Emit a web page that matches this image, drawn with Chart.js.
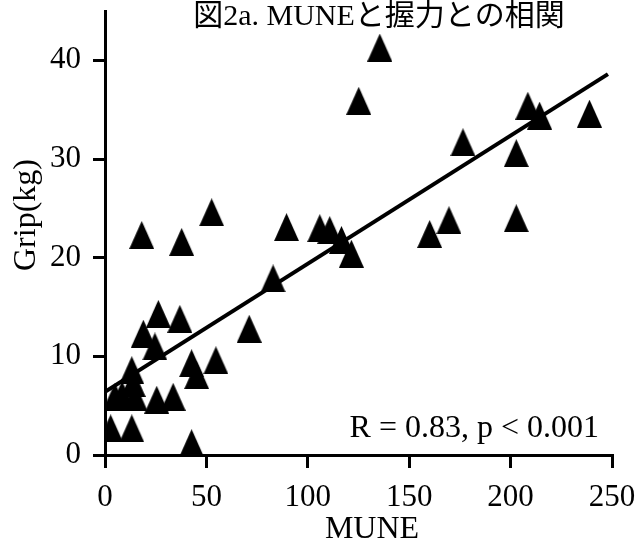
<!DOCTYPE html>
<html>
<head>
<meta charset="utf-8">
<script src="https://cdn.jsdelivr.net/npm/chart.js@4/dist/chart.umd.min.js"></script>
<style>
  html, body { margin: 0; padding: 0; background: #fff; }
  #wrap { width: 641px; height: 545px; position: relative; }
</style>
</head>
<body>
<div id="wrap"><canvas id="c" width="641" height="545"></canvas></div>
<script>
// ---- data ----
const muneValues = [18.1, 37.8, 52.6, 89.5, 105.9, 110.8, 116.6, 121.5, 160.1, 169.6,
  202.8, 202.8, 176.5, 208.5, 214.3, 238.9, 125.1, 135.5, 82.9, 71.1,
  54.7, 42.7, 45.2, 26.3, 36.9, 18.9, 24.6, 13.2, 13.9, 4.9,
  14.8, 25.5, 33.6, 2.8, 13.2, 42.7, 8.4];
const gripValues = [22.3, 21.6, 24.6, 23.1, 23.0, 22.8, 21.8, 20.4, 22.4, 23.8,
  24.0, 30.6, 31.7, 35.4, 34.4, 34.6, 35.9, 41.3, 17.9, 12.8,
  9.6, 9.3, 8.1, 14.3, 13.8, 12.3, 11.0, 8.6, 7.3, 5.9,
  5.9, 5.6, 5.9, 2.7, 2.7, 1.2, 6.1];
const fitLineX = [0, 248];
const fitLineY = [6.4, 38.6];
const xTicks = [0, 50, 100, 150, 200, 250];
const yTicks = [0, 10, 20, 30, 40];
const titleText = '図2a. MUNEと握力との相関';
const xTitle = 'MUNE';
const yTitle = 'Grip(kg)';
const statText = 'R = 0.83, p < 0.001';

const SERIF = "'Liberation Serif', 'Times New Roman', 'Noto Sans CJK JP', serif";

// custom triangle marker
const tri = document.createElement('canvas');
tri.width = 25; tri.height = 28;
(function(){
  const g = tri.getContext('2d');
  g.fillStyle = '#000';
  g.beginPath();
  g.moveTo(12.5, 0);
  g.lineTo(25, 28);
  g.lineTo(0, 28);
  g.closePath();
  g.fill();
})();

const textPlugin = {
  id: 'texts',
  afterDraw(chart) {
    const ctx = chart.ctx;
    ctx.save();
    ctx.fillStyle = '#000';
    ctx.font = '30px ' + SERIF;
    ctx.textAlign = 'center';
    ctx.textBaseline = 'alphabetic';
    ctx.fillText(titleText, 379, 25);
    ctx.font = '32px ' + SERIF;
    ctx.fillText(xTitle, 372, 538);
    ctx.textAlign = 'right';
    ctx.fillText(statText, 599, 437);
    ctx.translate(27, 215);
    ctx.rotate(-Math.PI / 2);
    ctx.textAlign = 'center';
    ctx.textBaseline = 'middle';
    ctx.fillText(yTitle, 0, 0);
    ctx.restore();
  }
};

function noPad(s) {
  s.paddingTop = 0; s.paddingBottom = 0; s.paddingLeft = 0; s.paddingRight = 0;
}

new Chart(document.getElementById('c'), {
  type: 'scatter',
  data: {
    datasets: [
      {
        data: muneValues.map((x, i) => ({ x: x, y: gripValues[i] })),
        pointStyle: tri,
        backgroundColor: '#000',
        borderColor: '#000',
        showLine: false
      },
      {
        data: fitLineX.map((x, i) => ({ x: x, y: fitLineY[i] })),
        showLine: true,
        borderColor: '#000',
        borderWidth: 4,
        pointRadius: 0,
        fill: false
      }
    ]
  },
  options: {
    responsive: false,
    animation: false,
    devicePixelRatio: 1,
    layout: { padding: { top: 11, right: 29, left: 0, bottom: 0 } },
    plugins: { legend: { display: false }, tooltip: { enabled: false }, title: { display: false } },
    scales: {
      x: {
        type: 'linear', min: 0, max: 250,
        afterBuildTicks: (s) => { s.ticks = xTicks.map(v => ({ value: v })); },
        afterFit: (s) => { s.height = 90; noPad(s); },
        ticks: { color: '#000', font: { family: SERIF, size: 31 }, padding: 11, maxRotation: 0 },
        grid: { drawOnChartArea: false, color: '#000', lineWidth: 3, tickLength: 13, tickWidth: 3 },
        border: { color: '#000', width: 3 }
      },
      y: {
        type: 'linear', min: 0, max: 45,
        afterBuildTicks: (s) => { s.ticks = yTicks.map(v => ({ value: v })); },
        afterFit: (s) => { s.width = 105; noPad(s); },
        ticks: { color: '#000', font: { family: SERIF, size: 31 }, padding: 12 },
        grid: { drawOnChartArea: false, color: '#000', lineWidth: 3, tickLength: 12, tickWidth: 3 },
        border: { color: '#000', width: 3 }
      }
    }
  },
  plugins: [textPlugin]
});
</script>
</body>
</html>
